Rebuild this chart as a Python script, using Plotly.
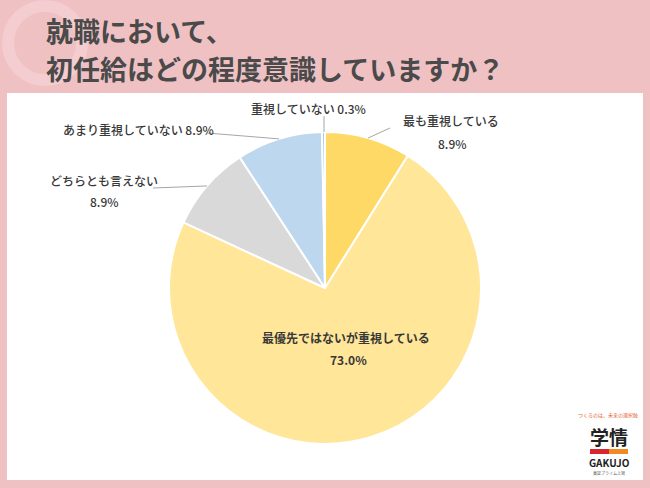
import math
import plotly.graph_objects as go

W, H = 650, 488

labels = ["最も重視している", "最優先ではないが重視している", "どちらとも言えない",
          "あまり重視していない", "重視していない"]
values = [8.9, 73.0, 8.9, 8.9, 0.3]
colors = ["#FFD966", "#FFE699", "#D9D9D9", "#BDD7EE", "#9DC3E6"]

title_lines = ["就職において、", "初任給はどの程度意識していますか？"]

# pie geometry in pixels
CX, CY, R = 325, 288, 156


def px(x):
    return x / W


def py(y):
    return 1 - y / H


def edge_point(i):
    before = sum(values[:i])
    mid = (before + values[i] / 2) / sum(values) * 2 * math.pi
    return CX + R * math.sin(mid), CY - R * math.cos(mid)


fig = go.Figure()
fig.add_trace(go.Pie(
    labels=labels, values=values, sort=False, direction="clockwise", rotation=0,
    marker=dict(colors=colors, line=dict(color="white", width=2)),
    textinfo="none", hoverinfo="label+percent", showlegend=False,
    domain=dict(x=[px(CX - R), px(CX + R)], y=[py(CY + R), py(CY - R)]),
))

shapes = [
    # white panel
    dict(type="rect", xref="paper", yref="paper", x0=px(7), x1=px(643), y0=py(480), y1=py(93),
         fillcolor="white", line=dict(width=0), layer="below"),
    # decorative ring
    dict(type="circle", xref="paper", yref="paper", x0=px(8), x1=px(82), y0=py(80), y1=py(6),
         line=dict(color="rgba(255,255,255,0.2)", width=12), layer="below"),
    # logo bar
    dict(type="rect", xref="paper", yref="paper", x0=px(590), x1=px(609), y0=py(454), y1=py(449),
         fillcolor="#D7262E", line=dict(width=0)),
    dict(type="rect", xref="paper", yref="paper", x0=px(609), x1=px(628), y0=py(454), y1=py(449),
         fillcolor="#F08A24", line=dict(width=0)),
]

# leader line starting points (pixels) for outside labels
leader_start = {0: (390, 128), 2: (153, 188), 3: (207, 133), 4: (324, 116)}
for i, (sx, sy) in leader_start.items():
    ex, ey = edge_point(i)
    if i == 4:
        ex, ey = CX - 1, CY - R
    shapes.append(dict(type="line", xref="paper", yref="paper",
                       x0=px(sx), y0=py(sy), x1=px(ex), y1=py(ey),
                       line=dict(color="#A6A6A6", width=1)))

lab_font = dict(family="Noto Sans CJK JP", size=12, color="#383838", weight=500)
annotations = []


def note(text, x, y, font, anchor="center"):
    annotations.append(dict(text=text, x=px(x), y=py(y), xref="paper", yref="paper",
                            showarrow=False, font=font, xanchor=anchor, yanchor="middle"))


# title
tfont = dict(family="Noto Sans CJK JP", size=27, color="#4A4A4A", weight="bold")
note(title_lines[0], 44, 30, tfont, "left")
note(title_lines[1], 44, 68, tfont, "left")

# slice labels
note(f"{labels[4]} {values[4]:.1f}%", 308, 108, lab_font)
note(labels[0], 451, 120, lab_font)
note(f"{values[0]:.1f}%", 452, 143, lab_font)
note(f"{labels[3]} {values[3]:.1f}%", 138, 129, lab_font)
note(labels[2], 104, 180, lab_font)
note(f"{values[2]:.1f}%", 104, 202, lab_font)
bold_lab = dict(lab_font, weight="bold")
note(labels[1], 346, 337, bold_lab)
note(f"{values[1]:.1f}%", 348, 359, bold_lab)

# logo
note("つくるのは、未来の選択肢", 608, 415, dict(family="Noto Sans CJK JP", size=5, color="#E8602C"))
note("学情", 609, 436, dict(family="Noto Sans CJK JP", size=19, color="#222222", weight="bold"))
note("GAKUJO", 609, 462, dict(family="Noto Sans CJK JP", size=10, color="#222222", weight="bold"))
note("東証プライム上場", 609, 473, dict(family="Noto Sans CJK JP", size=4, color="#555555"))

fig.update_layout(
    width=W, height=H, margin=dict(l=0, r=0, t=0, b=0),
    paper_bgcolor="#F0C1C3", plot_bgcolor="#F0C1C3",
    shapes=shapes, annotations=annotations,
)

fig.write_html("out.html", config={"displayModeBar": False},
               post_script="document.body.style.margin='0';document.body.style.overflow='hidden';")
